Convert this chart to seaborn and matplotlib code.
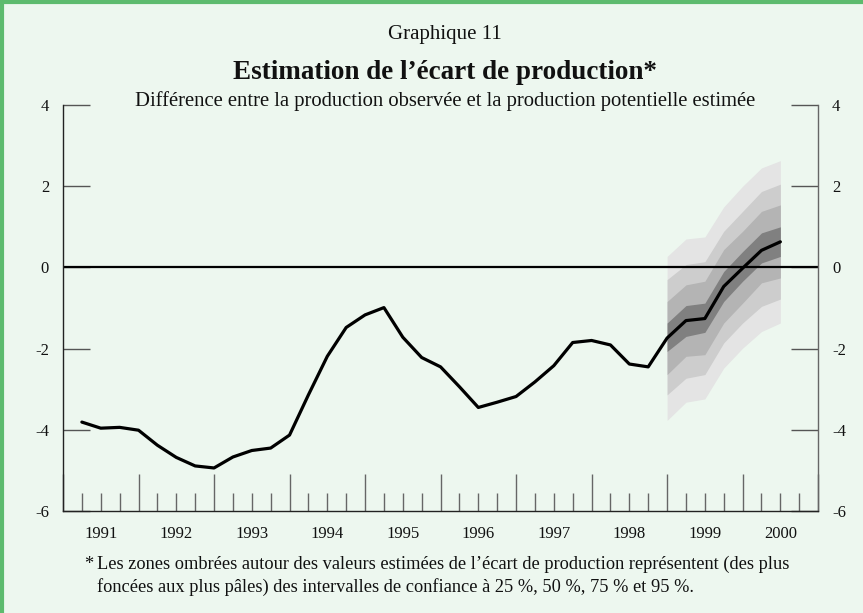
import numpy as np
import pandas as pd
import matplotlib
matplotlib.use("Agg")
import matplotlib.pyplot as plt
import matplotlib.lines as mlines
import seaborn as sns

# Ecart de production, trimestriel 1991T1 - 2000T2
ecart = [-3.81, -3.96, -3.94, -4.01,
         -4.38, -4.68, -4.89, -4.94,
         -4.67, -4.51, -4.45, -4.13,
         -3.14, -2.19, -1.48, -1.17,
         -0.99, -1.72, -2.22, -2.45,
         -2.94, -3.45, -3.32, -3.18,
         -2.82, -2.42, -1.85, -1.80,
         -1.91, -2.38, -2.45, -1.74,
         -1.31, -1.26, -0.47, -0.02,
         0.42, 0.63]

# Intervalles de confiance (1998T4 - 2000T2)
ic95_bas = [-3.77, -3.32, -3.24, -2.48, -1.99, -1.58, -1.37]
ic95_haut = [0.27, 0.70, 0.75, 1.49, 2.00, 2.45, 2.63]
ic75_bas = [-3.14, -2.73, -2.64, -1.86, -1.37, -0.96, -0.78]
ic75_haut = [-0.30, 0.07, 0.14, 0.89, 1.38, 1.87, 2.05]
ic50_bas = [-2.64, -2.19, -2.15, -1.37, -0.88, -0.38, -0.26]
ic50_haut = [-0.84, -0.43, -0.34, 0.44, 0.89, 1.38, 1.54]
ic25_bas = [-2.07, -1.70, -1.60, -0.84, -0.34, 0.11, 0.27]
ic25_haut = [-1.37, -0.94, -0.88, -0.10, 0.39, 0.85, 1.00]

annees = [1991, 1992, 1993, 1994, 1995, 1996, 1997, 1998, 1999, 2000]
yticks = [-6, -4, -2, 0, 2, 4]

fond = "#edf7ef"
vert = "#5dbb6e"

sns.set_style("ticks")
plt.rcParams["font.family"] = ["Liberation Serif", "DejaVu Serif"]
plt.rcParams["text.color"] = "#111111"
plt.rcParams["xtick.labelcolor"] = "#111111"
plt.rcParams["ytick.labelcolor"] = "#111111"

temps = 1991 + np.arange(1, len(ecart) + 1) / 4
df = pd.DataFrame({"temps": temps, "ecart": ecart})
t_fan = temps[-len(ic95_bas):]

fig = plt.figure(figsize=(8.63, 6.13), dpi=100, facecolor=fond)
ax = fig.add_axes([0.073, 0.1664, 0.875, 0.6623])
ax.set_facecolor(fond)

# zones ombrées
bandes = [(ic95_bas, ic95_haut, "#e4e4e4"),
          (ic75_bas, ic75_haut, "#cdcdcd"),
          (ic50_bas, ic50_haut, "#b4b4b4"),
          (ic25_bas, ic25_haut, "#808080")]
for bas, haut, c in bandes:
    ax.fill_between(t_fan, bas, haut, color=c, lw=0, zorder=1)

ax.axhline(0, color="black", lw=1.6, zorder=2)
sns.lineplot(x="temps", y="ecart", data=df, color="black", lw=2.3, ax=ax, zorder=3)

ax.set_xlim(1991, 2001)
ax.set_ylim(-6, 4)
ax.set_yticks(yticks)
ax.set_yticklabels([str(v) for v in yticks])
ax.set_xticks(list(range(1991, 2002)))
ax.set_xticks(np.arange(1991, 2001.01, 0.25), minor=True)
ax.set_xlabel("")
ax.set_ylabel("")

ax.tick_params(axis="y", direction="in", length=19.5, width=1, color="#555555",
               left=True, right=True, labelleft=True, labelright=True,
               pad=10, labelsize=12)
ax.tick_params(axis="x", which="major", direction="in", length=26.5, width=1,
               color="#666666", labelbottom=False)
ax.tick_params(axis="x", which="minor", direction="in", length=13, width=1,
               color="#666666")

ax.spines["top"].set_visible(False)
ax.spines["left"].set_color("#222222")
ax.spines["bottom"].set_color("#222222")
ax.spines["right"].set_color("#666666")
for s in ["left", "bottom", "right"]:
    ax.spines[s].set_linewidth(1)

for a in annees:
    ax.text(a + 0.5, -0.057, str(a), transform=ax.get_xaxis_transform(),
            ha="center", va="center", fontsize=12)

fig.text(0.516, 0.943, "Graphique 11", ha="center", va="center", fontsize=15)
fig.text(0.516, 0.881, "Estimation de l\u2019\u00e9cart de production*", ha="center",
         va="center", fontsize=19.5, fontweight="bold")
fig.text(0.516, 0.835, "Diff\u00e9rence entre la production observ\u00e9e et la production potentielle estim\u00e9e",
         ha="center", va="center", fontsize=14.9)

fig.text(0.097, 0.079, "*", ha="left", va="center", fontsize=13.2)
fig.text(0.112, 0.079, "Les zones ombr\u00e9es autour des valeurs estim\u00e9es de l\u2019\u00e9cart de production repr\u00e9sentent (des plus",
         ha="left", va="center", fontsize=13.2)
fig.text(0.112, 0.043, "fonc\u00e9es aux plus p\u00e2les) des intervalles de confiance \u00e0 25 %, 50 %, 75 % et 95 %.",
         ha="left", va="center", fontsize=13.2)

# bordure verte (haut et gauche)
fig.add_artist(mlines.Line2D([0, 1], [0.9965, 0.9965], transform=fig.transFigure,
                             color=vert, lw=3))
fig.add_artist(mlines.Line2D([0.0023, 0.0023], [0, 1], transform=fig.transFigure,
                             color=vert, lw=3))

fig.savefig("out.png", dpi=100, facecolor=fond)
